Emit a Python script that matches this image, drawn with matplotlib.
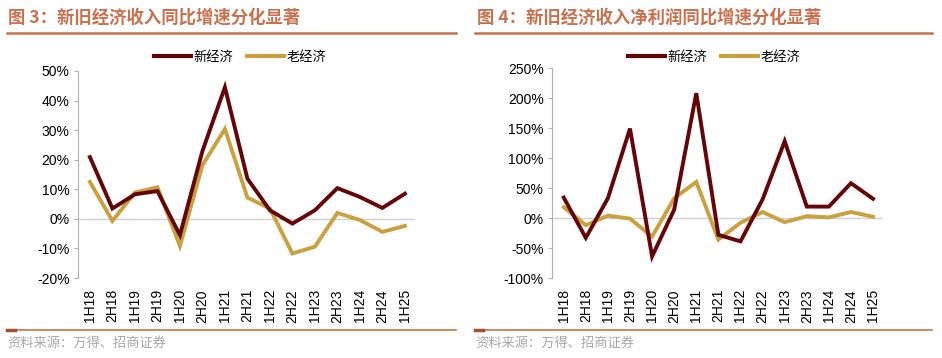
import matplotlib.pyplot as plt
from matplotlib.lines import Line2D
from matplotlib.ticker import FuncFormatter

plt.rcParams['font.family'] = ['Liberation Sans', 'Noto Sans CJK SC', 'DejaVu Sans']

periods = ['1H18', '2H18', '1H19', '2H19', '1H20', '2H20', '1H21', '2H21',
           '1H22', '2H22', '1H23', '2H23', '1H24', '2H24', '1H25']

# 图3 收入同比 (%)
rev_new = [20.9, 3.5, 8.3, 9.4, -5.5, 22.9, 44.5, 13.6, 2.9, -1.6, 2.9, 10.4, 7.4, 3.7, 8.5]
rev_old = [12.5, -0.7, 8.9, 10.7, -9.2, 18.1, 30.4, 7.2, 3.5, -11.7, -9.4, 2.0, -0.4, -4.4, -2.4]

# 图4 净利润同比 (%)
np_new = [34, -33, 33, 149, -64, 14, 208, -28, -39, 31, 128, 19, 19, 58, 32]
np_old = [18, -12, 4, -1, -31, 33, 60, -36, -8, 10, -7, 3, 1, 10, 2]

titles = ['图 3：新旧经济收入同比增速分化显著', '图 4：新旧经济收入净利润同比增速分化显著']
series_names = ['新经济', '老经济']
source = '资料来源：万得、招商证券'

C_NEW = '#650508'
C_OLD = '#C9A23F'
C_ACC = '#C8714E'
W, H = 942, 358

fig = plt.figure(figsize=(W / 100, H / 100), dpi=100)


def px_axes(x0, y0, x1, y1):
    return fig.add_axes([x0 / W, 1 - y1 / H, (x1 - x0) / W, (y1 - y0) / H])


def draw_panel(box, new, old, ylim, step, title, tx, line_x, legend_x):
    ax = px_axes(*box)
    x = range(len(periods))
    ax.axhline(0, color='#d0d0d0', lw=1, zorder=1)
    ax.plot(x, new, color=C_NEW, lw=2.8, zorder=3, solid_joinstyle='miter')
    ax.plot(x, old, color=C_OLD, lw=2.8, zorder=2, solid_joinstyle='miter')
    ax.set_xlim(-0.53, 14.45)
    ax.set_ylim(*ylim)
    ax.set_yticks(range(ylim[0], ylim[1] + 1, step))
    ax.yaxis.set_major_formatter(FuncFormatter(lambda v, p: f'{v:.0f}%'))
    ax.set_xticks(list(x))
    ax.set_xticklabels(periods, rotation=90, fontsize=10)
    ax.tick_params(axis='x', length=0, pad=8)
    ax.tick_params(axis='y', labelsize=10, length=3, color='#b0b0b0', pad=3)
    for s in ['top', 'right', 'bottom']:
        ax.spines[s].set_visible(False)
    ax.spines['left'].set_color('#b0b0b0')
    handles = [Line2D([], [], color=C_NEW, lw=3), Line2D([], [], color=C_OLD, lw=3)]
    fig.legend(handles, series_names, loc='center', ncol=2,
               bbox_to_anchor=(legend_x / W, 1 - 57 / H), frameon=False,
               handlelength=2.8, handletextpad=0.2, columnspacing=1.0,
               prop={'family': 'Noto Sans CJK SC', 'size': 9.5})
    fig.text(tx / W, 1 - 18 / H, title, fontsize=12.5, fontweight='bold',
             color=C_ACC, va='center', ha='left', family='Noto Sans CJK SC')
    fig.add_artist(Line2D([line_x[0] / W, line_x[1] / W], [1 - 33 / H] * 2,
                          color=C_ACC, lw=1.8))
    fig.add_artist(Line2D([line_x[0] / W, line_x[1] / W], [1 - 330 / H] * 2,
                          color=C_ACC, lw=1.2))
    fig.add_artist(Line2D([line_x[0] / W, (line_x[0] + 8) / W], [1 - 330 / H] * 2,
                          color='#a0522d', lw=2.5))
    fig.text(line_x[0] / W, 1 - 343 / H, source, fontsize=9.5, color='#a8a8a8',
             va='center', ha='left', family='Noto Sans CJK SC')
    return ax


draw_panel((78, 71, 415, 278), rev_new, rev_old, (-20, 50), 10,
           titles[0], 8, (7, 456), 240)
draw_panel((552, 68, 883, 278), np_new, np_old, (-100, 250), 50,
           titles[1], 477, (475, 932), 714)

fig.savefig('out.png', dpi=100)
